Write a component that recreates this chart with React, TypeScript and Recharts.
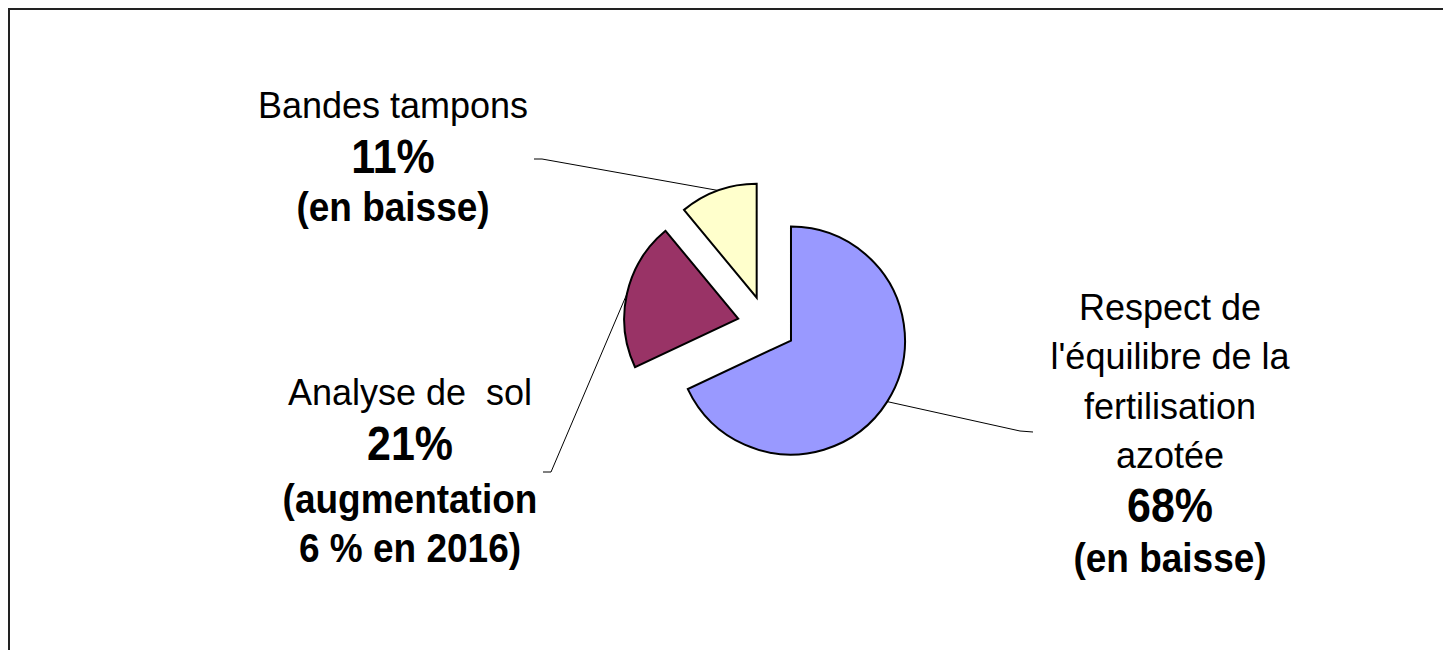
import React from 'react';
import { PieChart, Pie, Cell } from 'recharts';

// slices, clockwise from 12 o'clock
const categories = ["Respect de l'équilibre de la fertilisation azotée", 'Analyse de sol', 'Bandes tampons'];
const shares = [68, 21, 11];
const colors = ['#9999FF', '#993366', '#FFFFCC'];

// how the labels break onto lines
const nameLines = [
  ['Respect de', "l'équilibre de la", 'fertilisation', 'azotée'],
  ['Analyse de\u00a0 sol'],
  ['Bandes tampons'],
];
const trendLines = [['(en baisse)'], ['(augmentation', '6 % en 2016)'], ['(en baisse)']];

const data = categories.map((name, i) => ({ name, value: shares[i] }));

const RAD = Math.PI / 180;
const START = 90;
const EXPLODE = 29;
const FONT = '"Liberation Sans", Arial, sans-serif';

const total = shares.reduce((a, b) => a + b, 0);
const offsets = shares.map((v, i) => {
  const before = shares.slice(0, i).reduce((a, b) => a + b, 0);
  const mid = START - (360 * (before + v / 2)) / total;
  return { dx: EXPLODE * Math.cos(mid * RAD), dy: -EXPLODE * Math.sin(mid * RAD) };
});

const CX = 756.5;
const CY = 315;
const R = 114;

// text block placement + leader line bends
const layout = [
  { x: 1160, baselines: [310, 359, 409, 458, 512, 562], elbow: [1010, 421], end: [1023, 422] },
  { x: 400, baselines: [395, 450, 503, 552], elbow: [541, 462], end: [533, 462] },
  { x: 383, baselines: [108, 163, 211], elbow: [532, 149], end: [524, 149] },
];

const rowStyle = {
  name: { size: 36, weight: 400, sy: 1 },
  pct: { size: 43, weight: 700, sy: 1.12 },
  trend: { size: 37, weight: 700, sy: 1.12 },
};

const renderLabel = (slice: number) => (props: any) => {
  if (props.index !== slice) return null;
  const { cx, cy, midAngle, outerRadius, value } = props;
  const ax = cx + outerRadius * Math.cos(-midAngle * RAD);
  const ay = cy + outerRadius * Math.sin(-midAngle * RAD);
  const L = layout[slice];
  const rows = [
    ...nameLines[slice].map((t) => ({ t, ...rowStyle.name })),
    { t: `${value}%`, ...rowStyle.pct },
    ...trendLines[slice].map((t) => ({ t, ...rowStyle.trend })),
  ];
  return (
    <g>
      <polyline
        points={`${ax},${ay} ${L.elbow[0]},${L.elbow[1]} ${L.end[0]},${L.end[1]}`}
        fill="none"
        stroke="#000"
        strokeWidth={1}
      />
      {rows.map((r, k) => (
        <text
          key={k}
          transform={`translate(${L.x},${L.baselines[k]}) scale(1,${r.sy})`}
          textAnchor="middle"
          fontSize={r.size}
          fontWeight={r.weight}
          fontFamily={FONT}
          fill="#000"
        >
          {r.t}
        </text>
      ))}
    </g>
  );
};

export default function App() {
  return (
    // fixed frame runs off the right and bottom edges without causing scrollbars
    <div
      style={{
        position: 'fixed',
        left: 8,
        top: 8,
        width: 1450,
        height: 660,
        borderTop: '2px solid #222',
        borderLeft: '2px solid #222',
        background: '#fff',
      }}
    >
      <PieChart width={1433} height={640} margin={{ top: 0, right: 0, bottom: 0, left: 0 }}>
        {shares.map((_, slice) => (
          <Pie
            key={slice}
            data={data}
            dataKey="value"
            nameKey="name"
            cx={CX + offsets[slice].dx}
            cy={CY + offsets[slice].dy}
            outerRadius={R}
            startAngle={START}
            endAngle={START - 360}
            stroke="#000"
            strokeWidth={2}
            label={renderLabel(slice)}
            labelLine={false}
            isAnimationActive={false}
          >
            {data.map((d, i) => (
              <Cell
                key={d.name}
                fill={i === slice ? colors[i] : 'transparent'}
                stroke={i === slice ? '#000' : 'none'}
              />
            ))}
          </Pie>
        ))}
      </PieChart>
    </div>
  );
}
